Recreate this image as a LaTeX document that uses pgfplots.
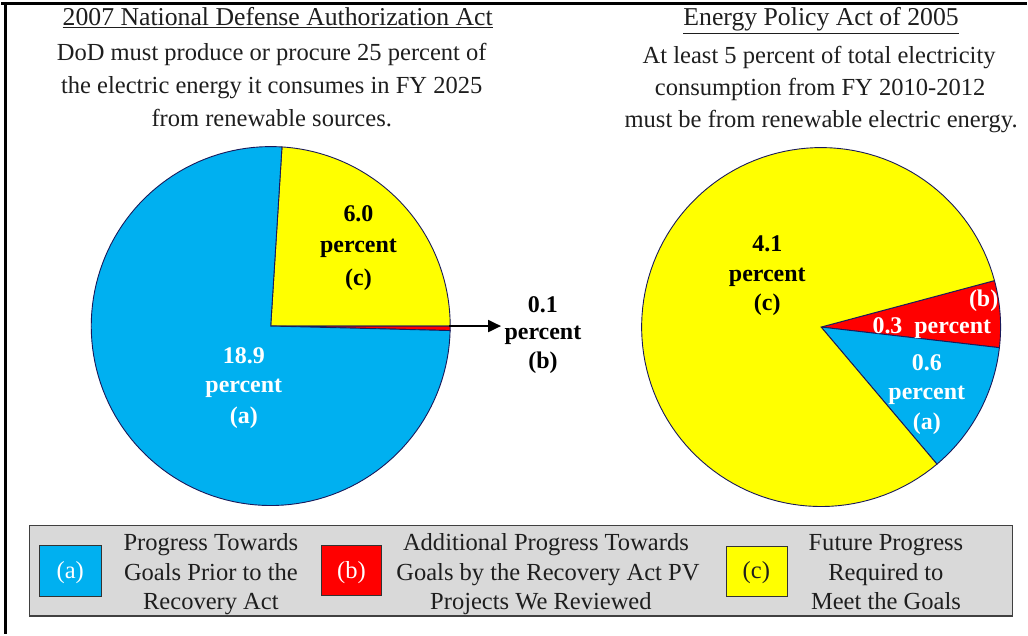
\documentclass[border=0pt]{standalone}
\usepackage{pgfplots}
\pgfplotsset{compat=1.18}
\usepackage{fontspec}
\setmainfont{Liberation Serif}
\usetikzlibrary{arrows.meta}
\definecolor{pieblue}{RGB}{0,176,240}
\definecolor{piered}{RGB}{255,0,0}
\definecolor{pieyellow}{RGB}{255,255,0}
\definecolor{pieedge}{RGB}{25,25,90}
\definecolor{leggray}{RGB}{217,217,217}
\definecolor{txt}{RGB}{30,30,30}

% slice: cx, cy, r, start angle, value, total, colour (drawn clockwise from start)
\newcommand{\pieslice}[7]{%
  \pgfmathsetmacro{\aend}{#4-#5/#6*360}%
  \edef\temp{\noexpand\addplot[fill=#7, draw=pieedge, line width=0.9bp, domain=\aend:#4, samples=120, variable=\noexpand\t]
    ({#1+#3*cos(\noexpand\t)},{#2-#3*sin(\noexpand\t)}) -- (axis cs:#1,#2) -- cycle;}%
  \temp}

\begin{document}
\begin{tikzpicture}[
  hdr/.style={anchor=base, text=txt, font=\fontsize{24.6bp}{28bp}\selectfont, inner sep=0pt},
  ttl/.style={anchor=base, text=txt, font=\fontsize{25.8bp}{28bp}\selectfont, inner sep=0pt},
  lbl/.style={anchor=base, font=\fontsize{24bp}{28bp}\selectfont\bfseries, inner sep=0pt},
  leg/.style={anchor=base, text=txt, font=\fontsize{24.6bp}{28bp}\selectfont, inner sep=0pt}]
\begin{axis}[hide axis, scale only axis, width=1028bp, height=636bp,
  xmin=0, xmax=1028, ymin=0, ymax=636, y dir=reverse, clip=false]
\path (axis cs:0,0) rectangle (axis cs:1028,636);

% Left pie: NDAA (total 25 percent)
\pieslice{270}{327}{180}{86.4}{6.0}{25}{pieyellow}
\pieslice{270}{327}{180}{0}{0.1}{25}{piered}
\pieslice{270}{327}{180}{-1.44}{18.9}{25}{pieblue}

% Right pie: EPAct (total 5 percent)
\pieslice{822}{328}{180}{15}{0.3}{5}{piered}
\pieslice{822}{328}{180}{-6.6}{0.6}{5}{pieblue}
\pieslice{822}{328}{180}{-49.8}{4.1}{5}{pieyellow}

% frame
\draw[line width=3bp] (axis cs:0,4) -- (axis cs:1028,4);
\draw[line width=3bp] (axis cs:4,4) -- (axis cs:4,636);

% headers
\node[ttl] at (axis cs:277,26) {\underline{2007 National Defense Authorization Act}};
\node[hdr] at (axis cs:271,61) {DoD must produce or procure 25 percent of};
\node[hdr] at (axis cs:271,94) {the electric energy it consumes in FY 2025};
\node[hdr] at (axis cs:271,127) {from renewable sources.};
\node[ttl] at (axis cs:822,26) {\underline{Energy Policy Act of 2005}};
\node[hdr] at (axis cs:820,64) {At least 5 percent of total electricity};
\node[hdr] at (axis cs:821,96) {consumption from FY 2010-2012};
\node[hdr] at (axis cs:822,128) {must be from renewable electric energy.};

% left pie labels
\node[lbl] at (axis cs:358,222) {6.0};
\node[lbl] at (axis cs:358,253) {percent};
\node[lbl] at (axis cs:358,286) {(c)};
\node[lbl, text=white] at (axis cs:243,365) {18.9};
\node[lbl, text=white] at (axis cs:243,394) {percent};
\node[lbl, text=white] at (axis cs:243,425) {(a)};
\draw[line width=2bp, -{Triangle[length=13bp,width=12bp]}] (axis cs:449,327) -- (axis cs:501,327);
\node[lbl] at (axis cs:543,313) {0.1};
\node[lbl] at (axis cs:543,340) {percent};
\node[lbl] at (axis cs:543,370) {(b)};

% right pie labels
\node[lbl] at (axis cs:768,252) {4.1};
\node[lbl] at (axis cs:768,282) {percent};
\node[lbl] at (axis cs:768,311) {(c)};
\node[lbl, text=white] at (axis cs:985,307) {(b)};
\node[lbl, text=white] at (axis cs:933,334) {0.3\ \ percent};
\node[lbl, text=white] at (axis cs:928,372) {0.6};
\node[lbl, text=white] at (axis cs:928,401) {percent};
\node[lbl, text=white] at (axis cs:928,431) {(a)};

% legend
\draw[fill=leggray, draw=black!75, line width=1.5bp] (axis cs:28,527) rectangle (axis cs:1014,618);
\draw[fill=pieblue, draw=black!80, line width=1.2bp] (axis cs:38,547) rectangle (axis cs:100,598);
\draw[fill=piered, draw=black!80, line width=1.2bp] (axis cs:321,547) rectangle (axis cs:381,597);
\draw[fill=pieyellow, draw=black!80, line width=1.2bp] (axis cs:727,548) rectangle (axis cs:788,598);
\node[leg, text=white] at (axis cs:69,580) {(a)};
\node[leg, text=white] at (axis cs:351,580) {(b)};
\node[leg] at (axis cs:757,580) {(c)};
\node[leg] at (axis cs:210,552) {Progress Towards};
\node[leg] at (axis cs:210,582) {Goals Prior to the};
\node[leg] at (axis cs:210,611) {Recovery Act};
\node[leg] at (axis cs:546,552) {Additional Progress Towards};
\node[leg] at (axis cs:548,582) {Goals by the Recovery Act PV};
\node[leg] at (axis cs:541,611) {Projects We Reviewed};
\node[leg] at (axis cs:887,552) {Future Progress};
\node[leg] at (axis cs:887,582) {Required to};
\node[leg] at (axis cs:887,611) {Meet the Goals};
\end{axis}
\end{tikzpicture}
\end{document}
